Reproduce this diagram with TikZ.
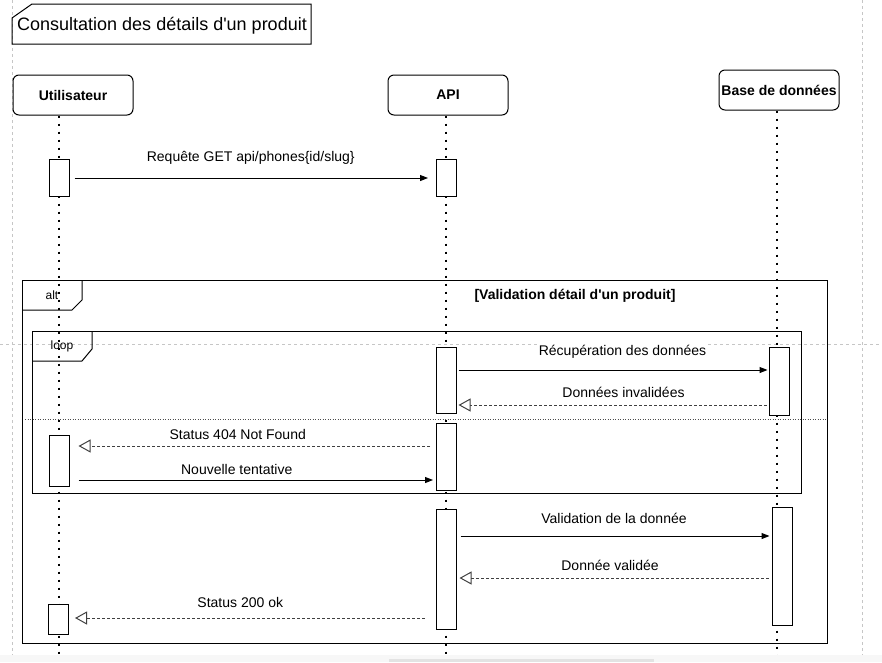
\documentclass[tikz,border=0pt]{standalone}
\usepackage{fontspec}
\setmainfont{Liberation Sans}
\usetikzlibrary{arrows.meta}

\begin{document}
\begin{tikzpicture}[
        x=1pt, y=-1pt,
        % 定義通用樣式
        page line/.style={gray!45, dash pattern=on 3pt off 3pt, line width=0.7pt}, % 頁面虛線
        participant/.style={draw, rounded corners=6pt, line width=1pt, minimum width=120pt, minimum height=40pt, inner sep=0pt, font=\fontsize{14}{16}\selectfont\bfseries}, % 參與者
        lifeline/.style={line width=2pt, dash pattern=on 2pt off 6pt}, % 生命線
        act/.style={draw, fill=white, line width=1pt, minimum width=20pt, inner sep=0pt}, % 啟動框
        frame/.style={draw, line width=1pt}, % 框線
        call/.style={line width=1pt, -{Triangle[length=8pt, width=6pt]}}, % 呼叫
        reply/.style={line width=1pt, black!75, dash pattern=on 3pt off 2pt, -{Triangle[open, length=12pt, width=13pt]}}, % 回覆
        label text/.style={font=\fontsize{14}{16}\selectfont, fill=white, inner sep=1pt, text=black}, % 文字大小
        tab text/.style={font=\fontsize{12}{14}\selectfont} % 標籤
    ]
        \useasboundingbox (0,0) rectangle (882,662);

        % --- 背景: 頁面虛線 ---
        \draw[page line] (12,0) -- (12,662);
        \draw[page line] (862,0) -- (862,662);
        \draw[page line] (0,344) -- (882,344);

        % --- 標題 ---
        \draw[frame] (12,18) -- (32,4) -- (311,4) -- (311,44) -- (12,44) -- cycle;
        \node[anchor=west, inner sep=0pt, font=\fontsize{18}{20}\selectfont] (title) at (17,26) {Consultation des détails d\textquotesingle un produit};

        % --- 參與者 ---
        \node[participant] (usr) at (73,95) {Utilisateur};
        \node[participant] (api) at (448,95) {API};
        \node[participant] (bdd) at (779,90) {Base de données};

        % --- 框: alt 與 loop ---
        \draw[frame] (22,280) rectangle (827,643);
        \draw[frame] (82,280) -- (82,300) -- (72,310) -- (22,310);
        \node[tab text] (alt) at (52,295) {alt};
        \node[font=\fontsize{14}{16}\selectfont\bfseries] (guard) at (575,296) {[Validation détail d\textquotesingle un produit]};

        \draw[frame] (32,331) rectangle (801,493);
        \draw[frame] (92,331) -- (92,349) -- (82,361) -- (32,361);
        \node[tab text] (loop) at (62,346) {loop};

        % 分隔虛線
        \draw[line width=0.8pt, black!70, dash pattern=on 1pt off 1.5pt] (25,419) -- (826,419);

        % --- 生命線 ---
        \draw[lifeline] ([xshift=-14pt]usr.south) -- ++(0,540);
        \draw[lifeline] ([xshift=-2pt]api.south) -- ++(0,540);
        \draw[lifeline] ([xshift=-2pt]bdd.south) -- ++(0,545);

        % --- 啟動框 ---
        \node[act, minimum height=37pt] (u1) at (59,178) {};
        \node[act, minimum height=37pt] (a1) at (446.5,178) {};
        \node[act, minimum height=66pt] (a2) at (446,380) {};
        \node[act, minimum height=68pt] (d1) at (779,381) {};
        \node[act, minimum height=67pt] (a3) at (446.5,456.5) {};
        \node[act, minimum height=51pt] (u2) at (59,460.5) {};
        \node[act, minimum height=120pt] (a4) at (446,569) {};
        \node[act, minimum height=118pt] (d2) at (782,566) {};
        \node[act, minimum height=30pt] (u3) at (58.5,619) {};

        % --- 訊息 ---
        \draw[call, shorten <=5pt, shorten >=8pt] (u1.east) -- (a1.west)
            node[label text, midway, xshift=-2pt, yshift=20pt] {Requête GET api/phones\{id/slug\}};
        \draw[call, shorten <=2pt, shorten >=1pt] (a2.east |- 0,370) -- (d1.west |- 0,370)
            node[label text, midway, xshift=10pt, yshift=18pt] {Récupération des données};
        \draw[reply, shorten <=2pt, shorten >=2pt] (d1.west |- 0,405) -- (a2.east |- 0,405)
            node[label text, midway, xshift=11pt, yshift=13pt] {Données invalidées};
        \draw[reply, shorten <=6pt, shorten >=9pt] (a3.west |- 0,446) -- (u2.east |- 0,446)
            node[label text, midway, xshift=-15pt, yshift=12pt] {Status 404 Not Found};
        \draw[call, shorten <=9pt, shorten >=3pt] (u2.east |- 0,480) -- (a3.west |- 0,480)
            node[label text, midway, xshift=-16pt, yshift=11pt] {Nouvelle tentative};
        \draw[call, shorten <=4pt, shorten >=2pt] (a4.east |- 0,536) -- (d2.west |- 0,536)
            node[label text, midway, yshift=18pt] {Validation de la donnée};
        \draw[reply, shorten <=3pt, shorten >=3pt] (d2.west |- 0,578) -- (a4.east |- 0,578)
            node[label text, midway, xshift=-4pt, yshift=13pt] {Donnée validée};
        \draw[reply, shorten <=11pt, shorten >=6pt] (a4.west |- 0,618) -- (u3.east |- 0,618)
            node[label text, midway, xshift=-12pt, yshift=16pt] {Status 200 ok};

        % --- 底部捲軸 ---
        \fill[gray!6] (0,655) rectangle (882,662);
        \fill[gray!22] (389,659) rectangle (654,662);

    \end{tikzpicture}
\end{document}
